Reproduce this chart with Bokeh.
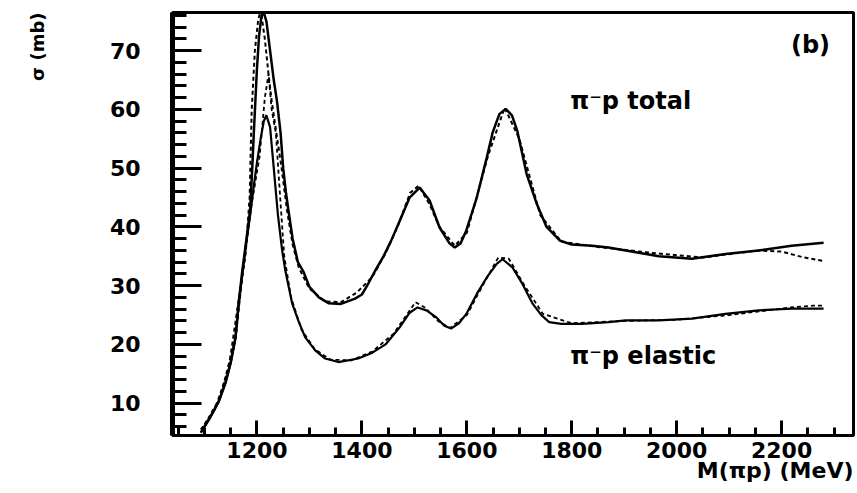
from bokeh.plotting import figure
from bokeh.models import Range1d, FixedTicker, Label, Title
from bokeh.embed import file_html
from bokeh.resources import INLINE

# ---- data ----
total_M = [1093, 1110, 1127, 1140, 1150, 1159, 1165, 1172, 1180, 1187, 1191, 1194, 1197, 1200,
           1204, 1208, 1212, 1218, 1225, 1232, 1238, 1245, 1250, 1255, 1260, 1268, 1278, 1289,
           1300, 1318, 1337, 1360, 1387, 1400, 1410, 1425, 1440, 1455, 1472, 1491, 1510, 1529,
           1548, 1567, 1577, 1588, 1599, 1619, 1638, 1649, 1662, 1674, 1686, 1696, 1714, 1733,
           1752, 1777, 1800, 1839, 1870, 1903, 1966, 2029, 2093, 2156, 2219, 2280]
total_sigma = [5.0, 7.5, 10.3, 13.5, 17.0, 21.2, 27.0, 32.5, 38.0, 43.0, 50.0, 56.0, 61.5, 67.0,
               72.5, 75.5, 76.8, 75.0, 70.0, 65.0, 61.5, 56.0, 50.0, 46.0, 42.8, 38.0, 34.0, 32.3,
               29.8, 28.0, 27.0, 26.9, 27.8, 28.5, 30.0, 32.5, 34.8, 37.5, 41.0, 45.0, 46.7, 44.5,
               39.9, 37.2, 36.5, 37.2, 39.4, 45.0, 51.8, 56.0, 59.2, 60.1, 59.0, 56.4, 49.0, 44.0,
               40.0, 37.7, 37.0, 36.8, 36.5, 36.0, 35.0, 34.6, 35.4, 36.0, 36.8, 37.3]

total_data_M = [1093, 1120, 1146, 1165, 1178, 1186, 1190, 1196, 1202, 1207, 1215, 1222, 1228,
                1237, 1247, 1257, 1268, 1280, 1300, 1330, 1360, 1390, 1420, 1445, 1470, 1492,
                1508, 1528, 1548, 1577, 1600, 1640, 1672, 1700, 1740, 1780, 1850, 1950, 2050,
                2156, 2200, 2238, 2280]
total_data_sigma = [5.5, 9.0, 15.8, 27.5, 35.0, 45.0, 60.0, 70.0, 75.0, 77.0, 72.0, 66.0, 61.5,
                    56.0, 50.0, 43.0, 37.0, 33.0, 29.5, 27.3, 27.2, 28.8, 31.5, 35.5, 40.5, 45.8,
                    47.0, 44.0, 40.0, 36.8, 39.0, 52.0, 60.3, 55.0, 42.0, 37.5, 36.6, 35.6, 34.8,
                    36.0, 35.8, 34.9, 34.2]

elastic_M = [1093, 1110, 1127, 1140, 1150, 1159, 1165, 1172, 1180, 1187, 1194, 1200, 1207,
             1213, 1218, 1225, 1232, 1240, 1248, 1254, 1267, 1279, 1292, 1311, 1330, 1355,
             1393, 1420, 1445, 1472, 1491, 1506, 1523, 1542, 1557, 1570, 1585, 1599, 1619,
             1638, 1657, 1668, 1687, 1706, 1725, 1742, 1757, 1780, 1820, 1870, 1903, 1966,
             2029, 2093, 2156, 2219, 2280]
elastic_sigma = [5.0, 7.4, 10.2, 13.4, 16.8, 21.0, 26.5, 32.0, 37.5, 42.0, 47.0, 51.0, 55.0,
                 58.0, 59.0, 57.0, 50.0, 42.0, 36.0, 32.6, 27.0, 24.0, 21.2, 19.0, 17.6, 17.0,
                 17.6, 18.6, 20.0, 22.9, 25.4, 26.3, 25.8, 24.6, 23.2, 22.7, 23.6, 25.2, 28.6,
                 31.4, 33.7, 34.5, 33.1, 30.3, 27.0, 25.0, 23.8, 23.5, 23.5, 23.8, 24.1, 24.1,
                 24.4, 25.2, 25.8, 26.1, 26.1]

elastic_data_M = [1100, 1130, 1160, 1175, 1190, 1205, 1215, 1222, 1228, 1236, 1245, 1252,
                  1265, 1285, 1310, 1340, 1380, 1420, 1460, 1485, 1502, 1520, 1545, 1568, 1600,
                  1630, 1660, 1680, 1710, 1745, 1800, 1900, 2000, 2100, 2218, 2260, 2280]
elastic_data_sigma = [6.3, 11.0, 21.5, 34.0, 44.0, 52.0, 62.0, 66.0, 60.0, 56.0, 44.0, 35.0,
                      28.0, 22.5, 19.2, 17.4, 17.3, 18.8, 21.8, 25.0, 27.2, 26.3, 24.0, 22.8,
                      25.0, 30.0, 34.8, 34.6, 30.0, 25.2, 23.6, 24.0, 24.2, 25.0, 26.3, 26.6,
                      26.6]

x_major = [1200, 1400, 1600, 1800, 2000, 2200]
x_minor = list(range(1050, 2350, 50))
y_major = [10, 20, 30, 40, 50, 60, 70]
y_minor = list(range(6, 77, 2))

x_label = "M(\u03c0p) (MeV)"
y_label = "\u03c3 (mb)"
panel_tag = "(b)"
total_text = "\u03c0\u207bp total"
elastic_text = "\u03c0\u207bp elastic"

FONT = "DejaVu Sans"

p = figure(width=857, height=493, output_backend="svg", toolbar_location=None,
           x_range=Range1d(1039, 2337), y_range=Range1d(4.5, 76.5),
           min_border_left=172, min_border_right=4, min_border_top=12, min_border_bottom=58)
p.background_fill_color = "white"
p.border_fill_color = "white"
p.outline_line_color = "black"
p.outline_line_width = 3
p.xgrid.visible = False
p.ygrid.visible = False

p.xaxis.ticker = FixedTicker(ticks=x_major, minor_ticks=x_minor)
p.yaxis.ticker = FixedTicker(ticks=y_major, minor_ticks=y_minor)

for ax in (p.xaxis[0], p.yaxis[0]):
    ax.major_tick_out = 0
    ax.minor_tick_out = 0
    ax.major_tick_line_color = "black"
    ax.minor_tick_line_color = "black"
    ax.major_tick_line_width = 3
    ax.minor_tick_line_width = 3
    ax.axis_line_color = "black"
    ax.major_label_text_font = FONT
    ax.major_label_text_font_style = "bold"
    ax.major_label_text_font_size = "22px"
    ax.major_label_text_color = "black"

p.xaxis.major_tick_in = 15
p.xaxis.minor_tick_in = 8
p.xaxis.axis_line_width = 3
p.xaxis.major_label_standoff = 6
p.yaxis.major_tick_in = 29
p.yaxis.minor_tick_in = 14
p.yaxis.axis_line_width = 5
p.yaxis.major_label_standoff = 32
# blank axis label used only as spacer so the y title sits further left
p.yaxis.axis_label = " "
p.yaxis.axis_label_text_font_size = "18px"
p.yaxis.axis_label_standoff = 36

# curves
p.line(total_M, total_sigma, line_color="black", line_width=2.5)
p.line(total_data_M, total_data_sigma, line_color="black", line_width=2, line_dash="4 3")
p.line(elastic_M, elastic_sigma, line_color="black", line_width=2.2)
p.line(elastic_data_M, elastic_data_sigma, line_color="black", line_width=1.8, line_dash="4 3")

# texts inside the frame
def lab(x, y, t, size, align="left", baseline="middle"):
    p.add_layout(Label(x=x, y=y, text=t, text_font=FONT, text_font_style="bold",
                       text_font_size=size, text_color="black", text_align=align,
                       text_baseline=baseline))

lab(2255, 70.9, panel_tag, "24px", align="center")
lab(1797, 61.5, total_text, "24px")
lab(1797, 18.1, elastic_text, "24px")

# axis titles, placed at the ends of the axes as in the reference
xt = Title(text=x_label, align="right", text_font=FONT, text_font_style="bold",
           text_font_size="22px", text_color="black", standoff=-10, offset=0)
p.add_layout(xt, "below")
yt = Title(text=y_label, align="right", text_font=FONT, text_font_style="bold",
           text_font_size="18px", text_color="black", standoff=0, offset=0)
p.add_layout(yt, "left")

open("out.html", "w").write(file_html(p, INLINE))
